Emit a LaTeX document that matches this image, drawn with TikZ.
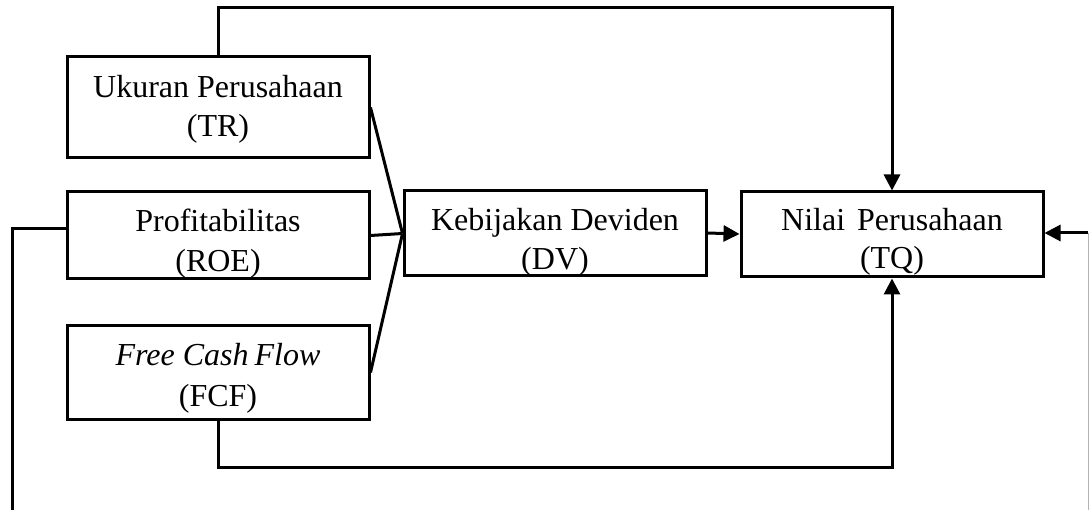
\documentclass[tikz,border=0pt]{standalone}
\usepackage{fontspec}
\setmainfont{Liberation Serif}
\usetikzlibrary{arrows.meta}
\begin{document}
\begin{tikzpicture}[x=1pt,y=-1pt,
  box/.style={draw=black, line width=3pt, minimum width=302pt, inner sep=0pt},
  txt/.style={font=\fontsize{32}{38}\selectfont, anchor=base, inner sep=0pt},
  ln/.style={draw=black, line width=3pt},
  arr/.style={ln, -{Triangle[length=16pt,width=16pt]}}]
\useasboundingbox (0,0) rectangle (1089,510);
% boxes
\node[box, minimum height=101pt] (uk) at (218,107.5) {};
\node[box, minimum height=87pt] (prof) at (218,235.5) {};
\node[box, minimum height=93pt] (fcf) at (218,372.5) {};
\node[box, minimum height=85pt] (keb) at (555,233.5) {};
\node[box, minimum height=85pt, minimum width=302pt] (nil) at (892,234.5) {};
% texts
\node[txt] (uk1) at (218,98) {Ukuran Perusahaan};
\node[txt] (uk2) at (218,137) {(TR)};
\node[txt] (pr1) at (218,232) {Profitabilitas};
\node[txt] (pr2) at (218,272) {(ROE)};
\node[txt] (fc1) at (218,366) {\itshape Free Cash\hspace{-2pt} Flow};
\node[txt] (fc2) at (218,406) {(FCF)};
\node[txt] (kb1) at (555,231) {Kebijakan Deviden};
\node[txt] (kb2) at (555,270) {(DV)};
\node[txt] (nl1) at (892,231) {Nilai\hspace{4pt} Perusahaan};
\node[txt] (nl2) at (892,269) {(TQ)};
% coordinates
\coordinate (tl) at (892,8);
\coordinate (bl) at (892,467);
\coordinate (lb) at (12,510);
\coordinate (rt) at (1088,233);
\coordinate (rb) at (1088,510);
% connectors
\draw[ln] (uk.east) -- (keb.west);
\draw[ln] (prof.east) -- (keb.west);
\draw[ln] (fcf.east) -- (keb.west);
\draw[arr] ([yshift=0.5pt]keb.east) -- ([yshift=0.5pt]nil.west);
\draw[arr] (uk.north) |- (tl) -- (nil.north);
\draw[arr] (fcf.south) |- (bl) -- (nil.south);
\draw[ln] ([yshift=6.5pt]prof.west) -| (lb);
\draw[draw=gray!60, line width=1pt] (rb) -- (rt);
\draw[arr] (rt) -- ([yshift=1.5pt]nil.east);
\end{tikzpicture}
\end{document}
